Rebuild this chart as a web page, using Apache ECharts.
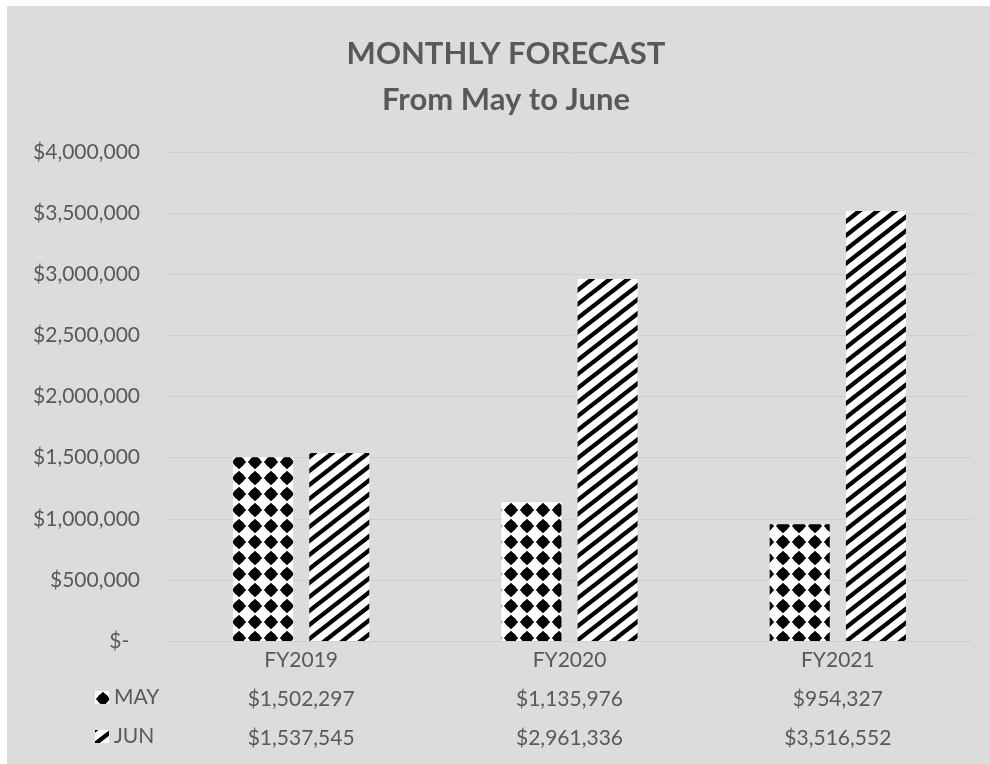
<!DOCTYPE html>
<html>
<head>
<meta charset="utf-8">
<script src="https://cdn.jsdelivr.net/npm/echarts@6/dist/echarts.min.js"></script>
<style>
    html, body { margin: 0; padding: 0; background: #ffffff; }
    #chart { position: absolute; left: 7px; top: 6px; width: 983px; height: 758px; }
</style>
</head>
<body>
<div id="chart"></div>
<script>
var categories = ['FY2019', 'FY2020', 'FY2021'];
var mayValues = [1502297, 1135976, 954327];
var junValues = [1537545, 2961336, 3516552];
var seriesNames = ['MAY', 'JUN'];
var yTicks = { min: 0, max: 4000000, interval: 500000 };

var textColor = '#595959';
var fontName = 'Lato';

// money format like the excel accounting style
function money(num) {
    if (num == 0) return '$-  ';
    var s = String(Math.round(num));
    return '$' + s.replace(/\B(?=(\d{3})+(?!\d))/g, ',');
}

// black dots on white
function dotPattern() {
    var c = document.createElement('canvas');
    c.width = 16;
    c.height = 16;
    var ctx = c.getContext('2d');
    ctx.fillStyle = '#ffffff';
    ctx.fillRect(0, 0, 16, 16);
    ctx.fillStyle = '#000000';
    ctx.beginPath();
    ctx.arc(8, 8, 5.4, 0, Math.PI * 2);
    ctx.fill();
    ctx.beginPath();
    ctx.moveTo(8, 0.8);
    ctx.lineTo(15.2, 8);
    ctx.lineTo(8, 15.2);
    ctx.lineTo(0.8, 8);
    ctx.closePath();
    ctx.fill();
    return c;
}

// diagonal black stripes going up to the right
function stripePattern() {
    var w = 18, h = 14;
    var c = document.createElement('canvas');
    c.width = w;
    c.height = h;
    var ctx = c.getContext('2d');
    ctx.fillStyle = '#ffffff';
    ctx.fillRect(0, 0, w, h);
    ctx.strokeStyle = '#000000';
    ctx.lineWidth = 4.2;
    for (var k = -1; k <= 1; k++) {
        ctx.beginPath();
        ctx.moveTo(k * w - w, h + h);
        ctx.lineTo(k * w + w + w, -h);
        ctx.stroke();
    }
    return c;
}

var chart = echarts.init(document.getElementById('chart'), null, { renderer: 'canvas' });

var option = {
    backgroundColor: '#dcdcdc',
    animation: false,
    title: {
        text: 'MONTHLY FORECAST\nFrom May to June',
        left: 499,
        top: 25,
        padding: 0,
        textAlign: 'center',
        textStyle: {
            fontFamily: fontName,
            fontSize: 31,
            fontWeight: 'bold',
            color: textColor,
            lineHeight: 46
        }
    },
    legend: {
        orient: 'vertical',
        left: 88,
        top: 681,
        padding: 0,
        itemWidth: 14,
        itemHeight: 13,
        itemGap: 18,
        icon: 'rect',
        data: seriesNames,
        textStyle: {
            fontFamily: fontName,
            fontSize: 21,
            color: textColor,
            lineHeight: 21
        }
    },
    grid: {
        left: 160,
        right: 18,
        top: 146,
        bottom: 123,
        containLabel: false
    },
    xAxis: {
        type: 'category',
        data: categories,
        axisLine: { show: false },
        axisTick: { show: false },
        axisLabel: {
            interval: 0,
            margin: 0,
            fontFamily: fontName,
            fontSize: 21,
            color: textColor,
            lineHeight: 39,
            formatter: function (value, idx) {
                return value + '\n' + money(mayValues[idx]) + '\n' + money(junValues[idx]);
            }
        }
    },
    yAxis: {
        type: 'value',
        min: yTicks.min,
        max: yTicks.max,
        interval: yTicks.interval,
        axisLine: { show: false },
        axisTick: { show: false },
        axisLabel: {
            margin: 27,
            fontFamily: fontName,
            fontSize: 21,
            color: textColor,
            formatter: function (v) { return money(v); }
        },
        splitLine: {
            lineStyle: { color: '#d0d0d0', width: 1 }
        }
    },
    series: [{
        name: seriesNames[0],
        type: 'bar',
        barWidth: 60,
        barGap: '27%',
        data: mayValues,
        itemStyle: {
            color: { image: dotPattern(), repeat: 'repeat' }
        }
    }, {
        name: seriesNames[1],
        type: 'bar',
        barWidth: 60,
        barGap: '27%',
        data: junValues,
        itemStyle: {
            color: { image: stripePattern(), repeat: 'repeat' }
        }
    }]
};

chart.setOption(option);
</script>
</body>
</html>
